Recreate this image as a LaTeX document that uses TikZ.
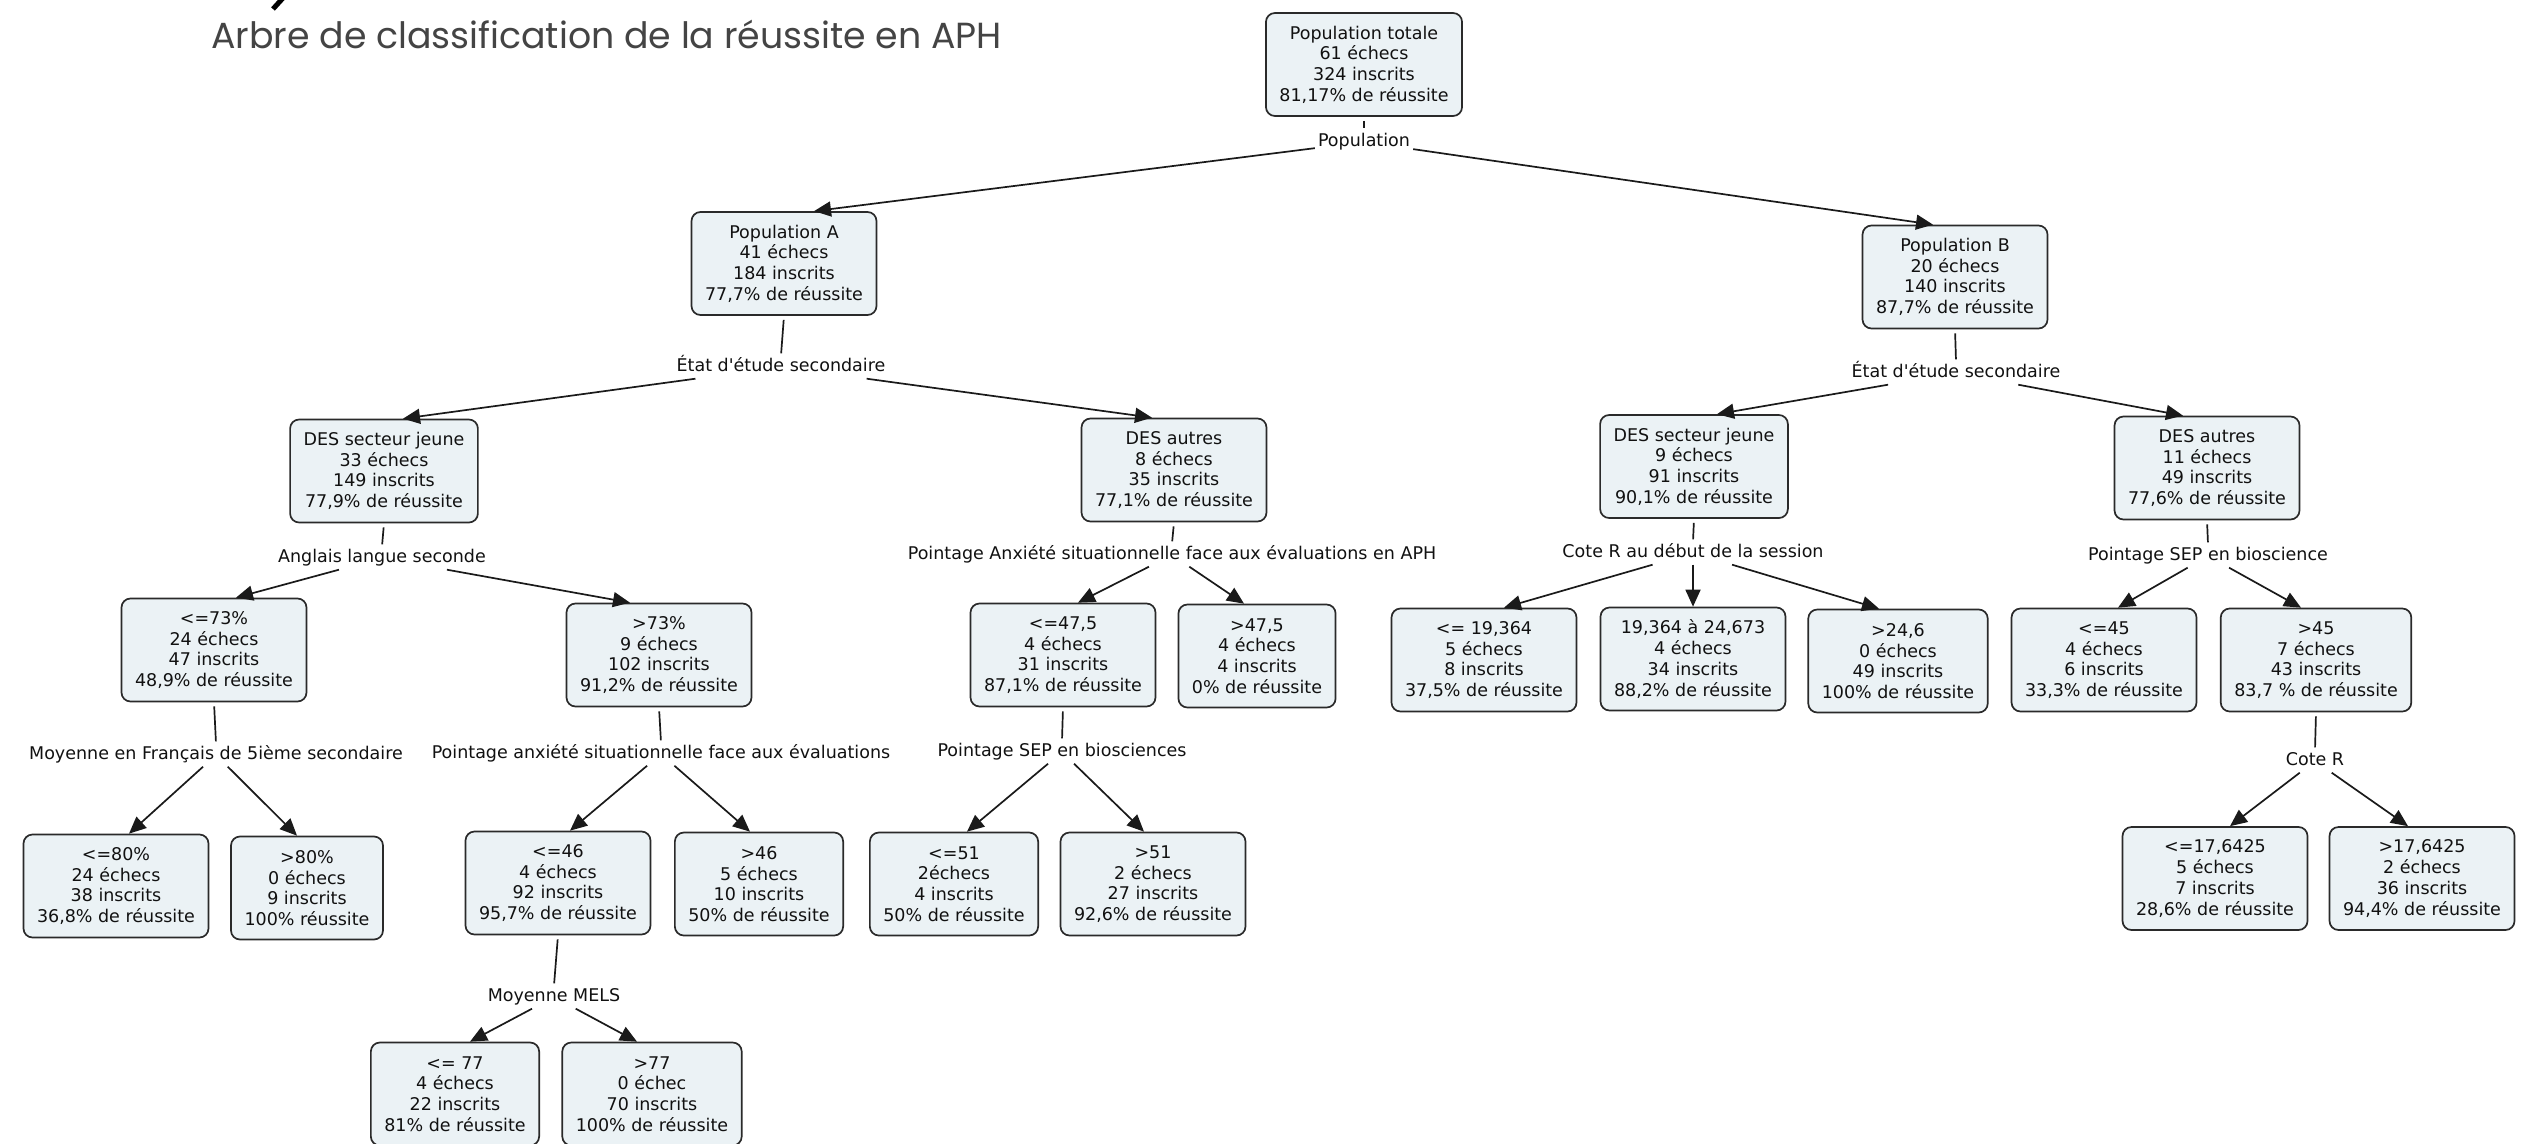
\documentclass[tikz,border=0pt]{standalone}
\usepackage{fontspec}
\setmainfont{DejaVu Sans}[Ligatures=TeXOff]
\newfontfamily\titlefont{Poppins}
\usetikzlibrary{arrows.meta}
\definecolor{boxfill}{HTML}{EBF2F5}
\definecolor{boxline}{HTML}{2A2A2A}
\definecolor{connline}{HTML}{1A1A1A}
\definecolor{txt}{HTML}{111111}
\definecolor{titlecol}{HTML}{444444}
\begin{document}
\begin{tikzpicture}[x=1pt,y=-1pt,
  box/.style={draw=boxline, fill=boxfill, line width=1.7pt, rounded corners=9pt,
    align=center, inner xsep=13.5pt, inner ysep=0pt, minimum height=103pt,
    text=txt, font=\fontsize{17.5}{20.7}\selectfont},
  lbl/.style={inner sep=3pt, text height=13pt, text depth=4pt, text=txt,
    font=\fontsize{17.5}{20.7}\selectfont},
  conn/.style={draw=connline, line width=1.7pt},
  arr/.style={conn, -{Triangle[length=17pt,width=15pt]}},
  tick/.style={conn, shorten <=4pt, shorten >=2pt}
]
\useasboundingbox (0,0) rectangle (2526,1143);
\fill[white] (0,0) rectangle (2526,1143);

% title and cut-off fragment
\draw[line width=5pt, black] (283,-2) -- (273,9);
\node[anchor=base west, inner sep=0pt, text=titlecol,
  font=\titlefont\fontsize{36.3}{40}\selectfont] (title) at (211,48)
  {Arbre de classification de la réussite en APH};

% boxes
\node[box] (tot) at (1364,64.5) {Population totale\\61 échecs\\324 inscrits\\81,17\% de réussite};
\node[box] (popA) at (784,263.5) {Population A\\41 échecs\\184 inscrits\\77,7\% de réussite};
\node[box] (popB) at (1955,277) {Population B\\20 échecs\\140 inscrits\\87,7\% de réussite};
\node[box] (desjA) at (384,471) {DES secteur jeune\\33 échecs\\149 inscrits\\77,9\% de réussite};
\node[box] (desaA) at (1174,470) {DES autres\\8 échecs\\35 inscrits\\77,1\% de réussite};
\node[box] (desjB) at (1694,466.5) {DES secteur jeune\\9 échecs\\91 inscrits\\90,1\% de réussite};
\node[box] (desaB) at (2207,468) {DES autres\\11 échecs\\49 inscrits\\77,6\% de réussite};
\node[box] (le73) at (214,650) {<=73\%\\24 échecs\\47 inscrits\\48,9\% de réussite};
\node[box] (gt73) at (659,655) {>73\%\\9 échecs\\102 inscrits\\91,2\% de réussite};
\node[box] (le475) at (1063,655) {<=47,5\\4 échecs\\31 inscrits\\87,1\% de réussite};
\node[box] (gt475) at (1257,656) {>47,5\\4 échecs\\4 inscrits\\0\% de réussite};
\node[box] (le19) at (1484,660) {<= 19,364\\5 échecs\\8 inscrits\\37,5\% de réussite};
\node[box] (mid19) at (1693,659) {19,364 à 24,673\\4 échecs\\34 inscrits\\88,2\% de réussite};
\node[box] (gt246) at (1898,661) {>24,6\\0 échecs\\49 inscrits\\100\% de réussite};
\node[box] (le45) at (2104,660) {<=45\\4 échecs\\6 inscrits\\33,3\% de réussite};
\node[box] (gt45) at (2316,660) {>45\\7 échecs\\43 inscrits\\83,7 \% de réussite};
\node[box] (le80) at (116,886) {<=80\%\\24 échecs\\38 inscrits\\36,8\% de réussite};
\node[box] (gt80) at (307,888) {>80\%\\0 échecs\\9 inscrits\\100\% réussite};
\node[box] (le46) at (558,883) {<=46\\4 échecs\\92 inscrits\\95,7\% de réussite};
\node[box] (gt46) at (759,884) {>46\\5 échecs\\10 inscrits\\50\% de réussite};
\node[box] (le51) at (954,884) {<=51\\2échecs\\4 inscrits\\50\% de réussite};
\node[box] (gt51) at (1153,884) {>51\\2 échecs\\27 inscrits\\92,6\% de réussite};
\node[box] (le176) at (2215,878.5) {<=17,6425\\5 échecs\\7 inscrits\\28,6\% de réussite};
\node[box] (gt176) at (2422,878.5) {>17,6425\\2 échecs\\36 inscrits\\94,4\% de réussite};
\node[box] (le77) at (455,1094) {<= 77\\4 échecs\\22 inscrits\\81\% de réussite};
\node[box] (gt77) at (652,1094) {>77\\0 échec\\70 inscrits\\100\% de réussite};

% labels
\node[lbl] (lpop) at (1364,142) {Population};
\node[lbl] (letA) at (781,367) {État d'étude secondaire};
\node[lbl] (letB) at (1956,373) {État d'étude secondaire};
\node[lbl] (lang) at (382,558) {Anglais langue seconde};
\node[lbl] (lanx) at (1172,555) {Pointage Anxiété situationnelle face aux évaluations en APH};
\node[lbl] (lcr1) at (1693,553) {Cote R au début de la session};
\node[lbl] (lsep1) at (2208,556) {Pointage SEP en bioscience};
\node[lbl] (lfr) at (216,755) {Moyenne en Français de 5ième secondaire};
\node[lbl] (lanx2) at (661,754) {Pointage anxiété situationnelle face aux évaluations};
\node[lbl] (lsep2) at (1062,752) {Pointage SEP en biosciences};
\node[lbl] (lcr2) at (2315,761) {Cote R};
\node[lbl] (lmels) at (554,997) {Moyenne MELS};

% parent -> label ticks
\draw[tick] (tot.south) -- (lpop.north);
\draw[tick] (popA.south) -- (letA.north);
\draw[tick] (popB.south) -- (letB.north);
\draw[tick] (desjA.south) -- (lang.north);
\draw[tick] (desaA.south) -- (lanx.north);
\draw[tick] (desjB.south) -- (lcr1.north);
\draw[tick] (desaB.south) -- (lsep1.north);
\draw[tick] (le73.south) -- (lfr.north);
\draw[tick] (gt73.south) -- (lanx2.north);
\draw[tick] (le475.south) -- (lsep2.north);
\draw[tick] (gt45.south) -- (lcr2.north);
\draw[tick] (le46.south) -- (lmels.north);

% label -> child arrows
\draw[arr] (lpop) -- ([xshift=30pt]popA.north);
\draw[arr] (lpop) -- ([xshift=-22pt]popB.north);
\draw[arr] (letA) -- ([xshift=19pt]desjA.north);
\draw[arr] (letA) -- ([xshift=-22pt]desaA.north);
\draw[arr] (letB) -- ([xshift=23pt]desjB.north);
\draw[arr] (letB) -- ([xshift=-24pt]desaB.north);
\draw[arr] (lang) -- ([xshift=22pt]le73.north);
\draw[arr] (lang) -- ([xshift=-29pt]gt73.north);
\draw[arr] (lanx) -- ([xshift=15pt]le475.north);
\draw[arr] (lanx) -- ([xshift=-13pt]gt475.north);
\draw[arr] (lcr1) -- ([xshift=20pt]le19.north);
\draw[arr] (lcr1.south) -- (mid19.north);
\draw[arr] (lcr1) -- ([xshift=-19pt]gt246.north);
\draw[arr] (lsep1) -- ([xshift=14pt]le45.north);
\draw[arr] (lsep1) -- ([xshift=-15pt]gt45.north);
\draw[arr] (lfr) -- ([xshift=13pt]le80.north);
\draw[arr] (lfr) -- ([xshift=-10pt]gt80.north);
\draw[arr] (lanx2) -- ([xshift=12pt]le46.north);
\draw[arr] (lanx2) -- ([xshift=-9pt]gt46.north);
\draw[arr] (lsep2) -- ([xshift=13pt]le51.north);
\draw[arr] (lsep2) -- ([xshift=-9pt]gt51.north);
\draw[arr] (lcr2) -- ([xshift=15pt]le176.north);
\draw[arr] (lcr2) -- ([xshift=-14pt]gt176.north);
\draw[arr] (lmels) -- ([xshift=15pt]le77.north);
\draw[arr] (lmels) -- ([xshift=-15pt]gt77.north);
\end{tikzpicture}
\end{document}
